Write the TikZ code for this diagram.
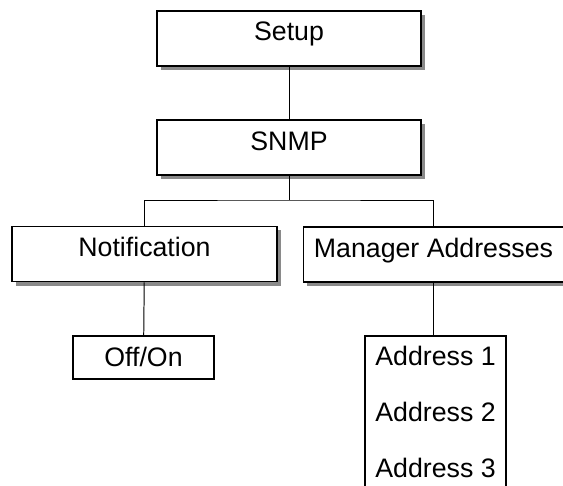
\documentclass[tikz,border=0pt]{standalone}
\usepackage{fontspec}
\setmainfont{Liberation Sans}
\usetikzlibrary{shadows}
\definecolor{shadowgray}{RGB}{138,138,138}

\begin{document}
\begin{tikzpicture}[x=0.025cm,y=-0.025cm,
    menu/.style={rectangle,draw,line width=1.2pt,fill=white,inner sep=0pt,
      font=\fontsize{19}{23}\selectfont,text height=0.75cm,text depth=0.625cm,
      drop shadow={shadow xshift=0.1cm,shadow yshift=-0.1cm,fill=shadowgray,opacity=1}},
    item/.style={rectangle,draw,line width=1.2pt,fill=white,inner sep=0pt,
      font=\fontsize{19}{39.8}\selectfont,align=center},
    link/.style={line width=0.7pt}]
\useasboundingbox (0,0) rectangle (563,485);

\node[menu,minimum width=6.59cm] (setup) at (289,38.5) {Setup};
\node[menu,minimum width=6.59cm] (snmp) at (289,147.5) {SNMP};
\node[menu,minimum width=6.625cm] (notif) at (144.5,254) {Notification};
\node[menu,minimum width=6.5cm] (mgr) at (433.5,254.5) {Manager Addresses};
\node[item,minimum width=3.525cm,text height=0.75cm,text depth=0.325cm] (onoff) at (143.5,357.5) {Off/On};
\node[item,minimum width=3.525cm,minimum height=3.8cm] (addr) at (435.5,412) {Address 1\\Address 2\\Address 3};

\coordinate (bus) at (289,200);

\draw[link] (setup) -- (snmp);
\draw[link] (snmp) -- (bus);
\draw[link] (notif.north) |- (bus) -| (mgr.north);
\draw[link] (notif) -- (onoff);
\draw[link] (mgr.south) -- (addr.north -| mgr.south);
\end{tikzpicture}
\end{document}
